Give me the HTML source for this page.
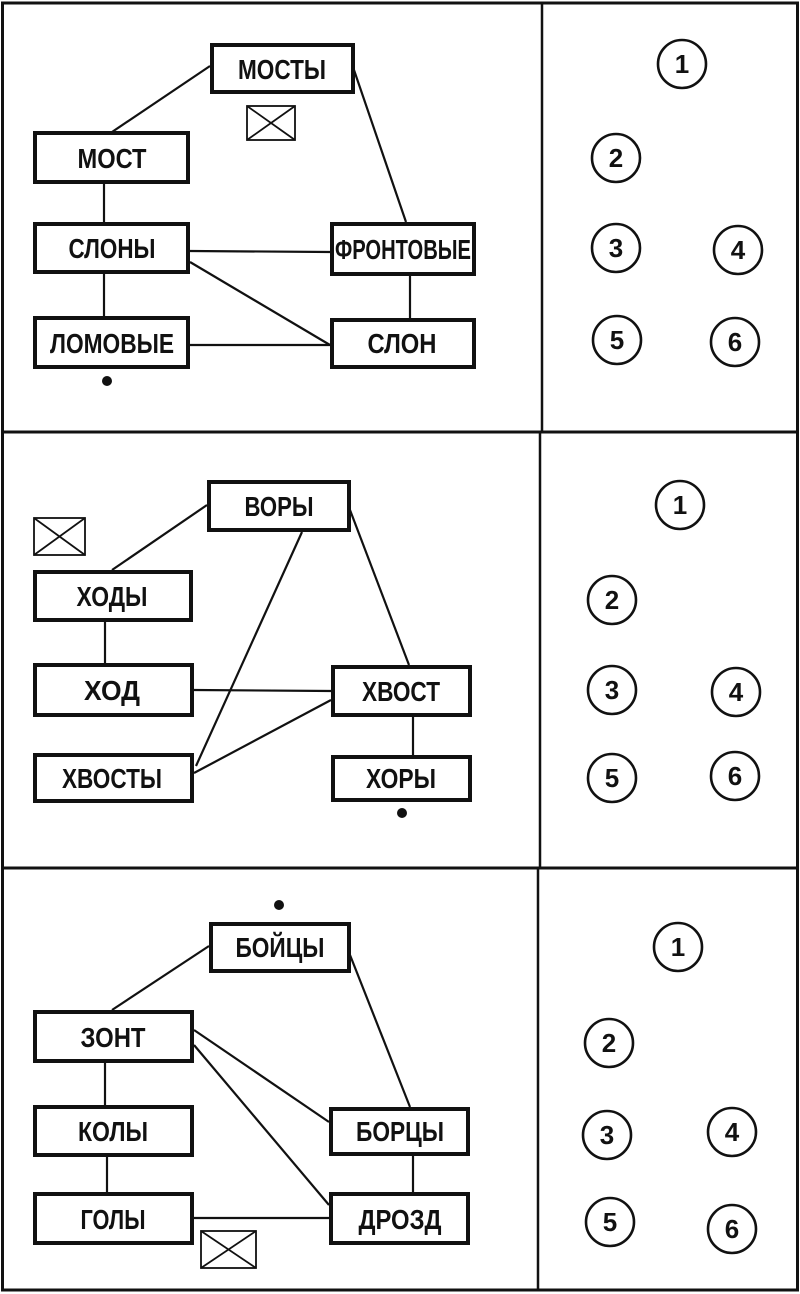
<!DOCTYPE html>
<html><head><meta charset="utf-8"><style>
html,body{margin:0;padding:0;background:#fff;width:800px;height:1294px;overflow:hidden}
svg text{font-family:"Liberation Sans",sans-serif;font-weight:bold;fill:#111}
</style></head><body>
<svg width="800" height="1294" viewBox="0 0 800 1294" xmlns="http://www.w3.org/2000/svg">
<g stroke="#111" fill="none">
<rect x="2.5" y="3" width="795" height="1287" stroke-width="3"/>
<line x1="2" y1="432" x2="798" y2="432" stroke-width="3"/>
<line x1="2" y1="868" x2="798" y2="868" stroke-width="3"/>
<line x1="542" y1="3" x2="542" y2="432" stroke-width="2.5"/>
<line x1="540" y1="432" x2="540" y2="868" stroke-width="2.5"/>
<line x1="538" y1="868" x2="538" y2="1290" stroke-width="2.5"/>

<g stroke-width="2.2">
<line x1="210" y1="66" x2="112" y2="132"/>
<line x1="354" y1="70" x2="406" y2="222"/>
<line x1="104" y1="183" x2="104" y2="222"/>
<line x1="190" y1="251" x2="330" y2="252"/>
<line x1="190" y1="262" x2="330" y2="345"/>
<line x1="104" y1="273" x2="104" y2="316"/>
<line x1="190" y1="345" x2="330" y2="345"/>
<line x1="410" y1="275" x2="410" y2="318"/>
</g>
<g stroke-width="4">
<rect x="212" y="45" width="141" height="47"/>
<rect x="35" y="133" width="153" height="49"/>
<rect x="35" y="224" width="153" height="48"/>
<rect x="332" y="224" width="142" height="50"/>
<rect x="35" y="318" width="153" height="49"/>
<rect x="332" y="320" width="142" height="47"/>
</g>
<g stroke-width="1.8">
<rect x="247" y="106" width="48" height="34"/>
<line x1="247" y1="106" x2="295" y2="140"/><line x1="295" y1="106" x2="247" y2="140"/>
</g>

<g stroke-width="2.2">
<line x1="207" y1="505" x2="112" y2="570"/>
<line x1="350" y1="510" x2="409" y2="665"/>
<line x1="302" y1="532" x2="196" y2="766"/>
<line x1="105" y1="622" x2="105" y2="663"/>
<line x1="194" y1="690" x2="331" y2="691"/>
<line x1="331" y1="700" x2="194" y2="773"/>
<line x1="413" y1="716" x2="413" y2="755"/>
</g>
<g stroke-width="4">
<rect x="209" y="482" width="140" height="48"/>
<rect x="35" y="572" width="156" height="48"/>
<rect x="35" y="665" width="157" height="50"/>
<rect x="333" y="667" width="137" height="48"/>
<rect x="35" y="755" width="157" height="46"/>
<rect x="333" y="757" width="137" height="43"/>
</g>
<g stroke-width="1.8">
<rect x="34" y="518" width="51" height="37"/>
<line x1="34" y1="518" x2="85" y2="555"/><line x1="85" y1="518" x2="34" y2="555"/>
</g>

<g stroke-width="2.2">
<line x1="209" y1="946" x2="112" y2="1010"/>
<line x1="350" y1="955" x2="410" y2="1107"/>
<line x1="194" y1="1030" x2="329" y2="1122"/>
<line x1="194" y1="1045" x2="329" y2="1205"/>
<line x1="105" y1="1063" x2="105" y2="1105"/>
<line x1="107" y1="1157" x2="107" y2="1192"/>
<line x1="194" y1="1218" x2="329" y2="1218"/>
<line x1="413" y1="1155" x2="413" y2="1192"/>
</g>
<g stroke-width="4">
<rect x="211" y="924" width="138" height="47"/>
<rect x="35" y="1012" width="157" height="49"/>
<rect x="35" y="1107" width="157" height="48"/>
<rect x="35" y="1194" width="157" height="49"/>
<rect x="331" y="1109" width="137" height="45"/>
<rect x="331" y="1194" width="137" height="49"/>
</g>
<g stroke-width="1.8">
<rect x="201" y="1231" width="55" height="37"/>
<line x1="201" y1="1231" x2="256" y2="1268"/><line x1="256" y1="1231" x2="201" y2="1268"/>
</g>

<g stroke-width="2.6">
<circle cx="682" cy="64" r="24"/><circle cx="616" cy="158" r="24"/>
<circle cx="616" cy="248" r="24"/><circle cx="738" cy="250" r="24"/>
<circle cx="617" cy="340" r="24"/><circle cx="735" cy="342" r="24"/>
<circle cx="680" cy="505" r="24"/><circle cx="612" cy="600" r="24"/>
<circle cx="612" cy="690" r="24"/><circle cx="736" cy="692" r="24"/>
<circle cx="612" cy="778" r="24"/><circle cx="735" cy="776" r="24"/>
<circle cx="678" cy="947" r="24"/><circle cx="609" cy="1043" r="24"/>
<circle cx="607" cy="1135" r="24"/><circle cx="732" cy="1132" r="24"/>
<circle cx="610" cy="1222" r="24"/><circle cx="732" cy="1229" r="24"/>
</g>
</g>
<g fill="#111">
<circle cx="107" cy="381" r="5"/>
<circle cx="402" cy="813" r="5"/>
<circle cx="279" cy="905" r="5"/>
</g>
<g font-size="28" text-anchor="middle" lengthAdjust="spacingAndGlyphs">
<text x="282" y="79" textLength="88" lengthAdjust="spacingAndGlyphs">МОСТЫ</text>
<text x="112" y="168" textLength="69" lengthAdjust="spacingAndGlyphs">МОСТ</text>
<text x="112" y="258" textLength="87" lengthAdjust="spacingAndGlyphs">СЛОНЫ</text>
<text x="403" y="259" textLength="136" lengthAdjust="spacingAndGlyphs">ФРОНТОВЫЕ</text>
<text x="112" y="353" textLength="124" lengthAdjust="spacingAndGlyphs">ЛОМОВЫЕ</text>
<text x="402" y="353" textLength="69" lengthAdjust="spacingAndGlyphs">СЛОН</text>
<text x="279" y="516" textLength="69" lengthAdjust="spacingAndGlyphs">ВОРЫ</text>
<text x="112" y="606" textLength="71" lengthAdjust="spacingAndGlyphs">ХОДЫ</text>
<text x="112" y="700" textLength="56" lengthAdjust="spacingAndGlyphs">ХОД</text>
<text x="401" y="701" textLength="78" lengthAdjust="spacingAndGlyphs">ХВОСТ</text>
<text x="112" y="788" textLength="100" lengthAdjust="spacingAndGlyphs">ХВОСТЫ</text>
<text x="401" y="788" textLength="70" lengthAdjust="spacingAndGlyphs">ХОРЫ</text>
<text x="280" y="957" textLength="89" lengthAdjust="spacingAndGlyphs">БОЙЦЫ</text>
<text x="113" y="1047" textLength="65" lengthAdjust="spacingAndGlyphs">ЗОНТ</text>
<text x="113" y="1141" textLength="70" lengthAdjust="spacingAndGlyphs">КОЛЫ</text>
<text x="113" y="1229" textLength="65" lengthAdjust="spacingAndGlyphs">ГОЛЫ</text>
<text x="400" y="1141" textLength="88" lengthAdjust="spacingAndGlyphs">БОРЦЫ</text>
<text x="400" y="1229" textLength="83" lengthAdjust="spacingAndGlyphs">ДРОЗД</text>
</g>
<g font-size="26" text-anchor="middle">
<text x="682" y="73">1</text><text x="616" y="167">2</text>
<text x="616" y="257">3</text><text x="738" y="259">4</text>
<text x="617" y="349">5</text><text x="735" y="351">6</text>
<text x="680" y="514">1</text><text x="612" y="609">2</text>
<text x="612" y="699">3</text><text x="736" y="701">4</text>
<text x="612" y="787">5</text><text x="735" y="785">6</text>
<text x="678" y="956">1</text><text x="609" y="1052">2</text>
<text x="607" y="1144">3</text><text x="732" y="1141">4</text>
<text x="610" y="1231">5</text><text x="732" y="1238">6</text>
</g>
</svg>
</body></html>
